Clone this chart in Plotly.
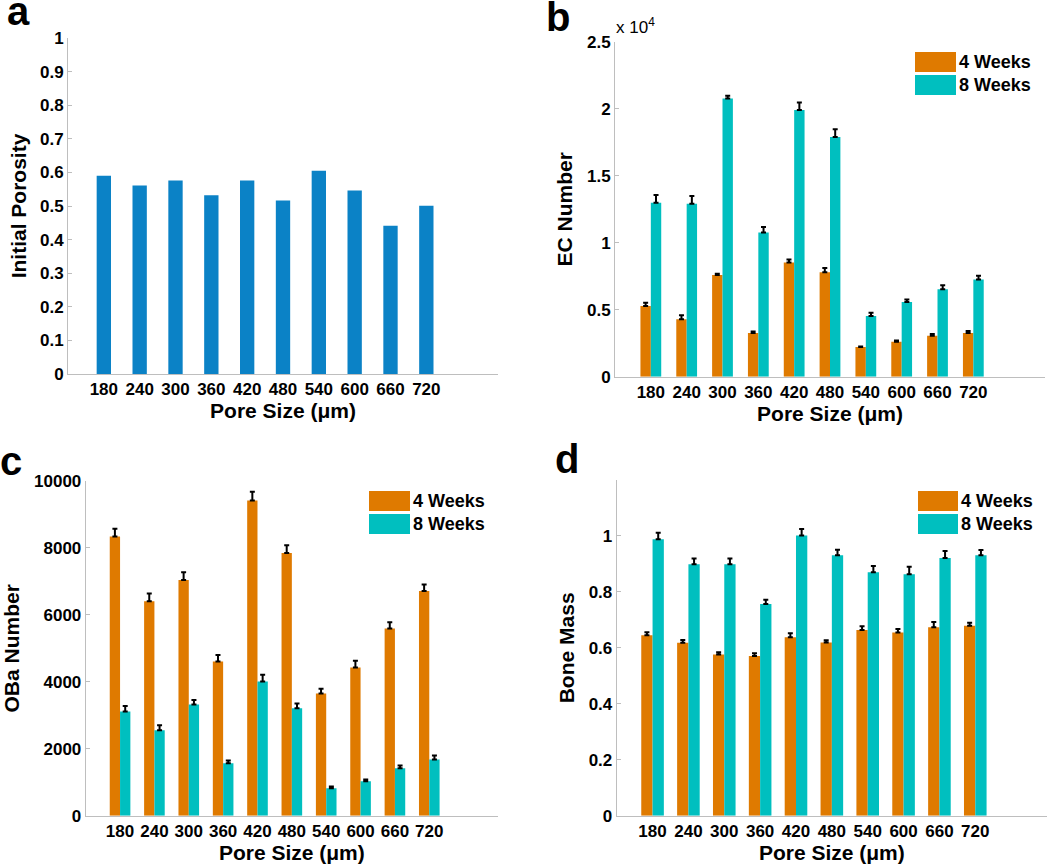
import plotly.graph_objects as go

# ---------------- data ----------------
pore_sizes = ["180", "240", "300", "360", "420", "480", "540", "600", "660", "720"]

porosity = [0.590, 0.561, 0.576, 0.532, 0.576, 0.516, 0.605, 0.546, 0.441, 0.501]

ec_4wk = [5270, 4280, 7590, 3260, 8530, 7790, 2210, 2610, 3060, 3260]
ec_4wk_err = [250, 300, 100, 120, 220, 320, 40, 100, 120, 150]
ec_8wk = [12990, 12910, 20770, 10770, 19900, 17890, 4530, 5570, 6520, 7260]
ec_8wk_err = [570, 570, 200, 400, 570, 570, 250, 200, 300, 270]

oba_4wk = [8340, 6410, 7040, 4610, 9420, 7850, 3650, 4430, 5590, 6710]
oba_4wk_err = [230, 230, 230, 190, 260, 230, 140, 200, 190, 200]
oba_8wk = [3110, 2550, 3320, 1570, 4010, 3210, 820, 1030, 1420, 1680]
oba_8wk_err = [170, 150, 140, 80, 200, 140, 50, 50, 80, 120]

bm_4wk = [0.645, 0.618, 0.576, 0.571, 0.638, 0.619, 0.664, 0.655, 0.674, 0.679]
bm_4wk_err = [0.011, 0.010, 0.008, 0.010, 0.014, 0.008, 0.013, 0.012, 0.018, 0.011]
bm_8wk = [0.988, 0.899, 0.899, 0.757, 1.002, 0.931, 0.870, 0.863, 0.921, 0.931]
bm_8wk_err = [0.023, 0.020, 0.020, 0.015, 0.023, 0.020, 0.023, 0.027, 0.025, 0.019]

series_names = ["4 Weeks", "8 Weeks"]

# ---------------- style ----------------
W, H = 1050, 864
BLUE = "rgb(11,130,198)"
ORANGE = "rgb(223,122,0)"
CYAN = "rgb(0,191,191)"
AXC = "rgb(190,190,190)"
FONT = "Liberation Sans, Arial, sans-serif"
TICKF = dict(family=FONT, size=17, color="black", weight="bold")
TITLEF = dict(family=FONT, size=21, color="black", weight="bold")


def px_dom_x(a, b):
    return [a / W, b / W]


def px_dom_y(top, bottom):
    return [1 - bottom / H, 1 - top / H]


fig = go.Figure()


def err(arr):
    return dict(type="data", array=arr, arrayminus=[0] * len(arr), symmetric=False,
                color="black", thickness=2, width=2.5, visible=True)


# panel a
fig.add_trace(go.Bar(x=pore_sizes, y=porosity, marker=dict(color=BLUE, line=dict(width=0)),
                     width=0.4, showlegend=False, xaxis="x", yaxis="y"))


def grouped(xa, ya, v4, e4, v8, e8, w):
    fig.add_trace(go.Bar(x=pore_sizes, y=v4, error_y=err(e4), name=series_names[0],
                         marker=dict(color=ORANGE, line=dict(width=0)), width=w, offset=-w,
                         showlegend=False, xaxis=xa, yaxis=ya))
    fig.add_trace(go.Bar(x=pore_sizes, y=v8, error_y=err(e8), name=series_names[1],
                         marker=dict(color=CYAN, line=dict(width=0)), width=w, offset=0,
                         showlegend=False, xaxis=xa, yaxis=ya))


grouped("x2", "y2", ec_4wk, ec_4wk_err, ec_8wk, ec_8wk_err, 0.29)
grouped("x3", "y3", oba_4wk, oba_4wk_err, oba_8wk, oba_8wk_err, 0.30)
grouped("x4", "y4", bm_4wk, bm_4wk_err, bm_8wk, bm_8wk_err, 0.315)


def xax(dom, anchor):
    return dict(domain=dom, anchor=anchor, type="category", range=[-1, 11],
                showline=True, linecolor=AXC, linewidth=1, showgrid=False, zeroline=False,
                ticks="", tickfont=TICKF, automargin=False,
                title=dict(text="Pore Size (μm)", font=TITLEF, standoff=3))


def yax(dom, anchor, rng, tickvals, ticktext, title, standoff):
    return dict(domain=dom, anchor=anchor, range=rng, tickvals=tickvals, ticktext=ticktext,
                showline=True, linecolor=AXC, linewidth=1, showgrid=False, zeroline=False,
                ticks="inside", ticklen=4, tickcolor=AXC, tickfont=TICKF, automargin=False,
                title=dict(text=title, font=TITLEF, standoff=standoff))


a_ticks = [i / 10 for i in range(11)]
a_text = ["0"] + [f"{v:.1f}" for v in a_ticks[1:-1]] + ["1"]
b_ticks = [0, 5000, 10000, 15000, 20000, 25000]
b_text = ["0", "0.5", "1", "1.5", "2", "2.5"]
c_ticks = [0, 2000, 4000, 6000, 8000, 10000]
c_text = [str(v) for v in c_ticks]
d_ticks = [0, 0.2, 0.4, 0.6, 0.8, 1.0]
d_text = ["0", "0.2", "0.4", "0.6", "0.8", "1"]

layout = dict(
    width=W, height=H, margin=dict(l=0, r=0, t=0, b=0, autoexpand=False),
    paper_bgcolor="white", plot_bgcolor="white", barmode="overlay",
    font=dict(family=FONT, color="black"),
    xaxis=xax(px_dom_x(68, 498), "y"),
    yaxis=yax(px_dom_y(38, 374), "x", [0, 1], a_ticks, a_text, "Initial Porosity", 7),
    xaxis2=xax(px_dom_x(615, 1045), "y2"),
    yaxis2=yax(px_dom_y(41.7, 376.7), "x2", [0, 25000], b_ticks, b_text, "EC Number", 8),
    xaxis3=xax(px_dom_x(85.7, 498), "y3"),
    yaxis3=yax(px_dom_y(481, 815.7), "x3", [0, 10000], c_ticks, c_text, "OBa Number", 8),
    xaxis4=xax(px_dom_x(616.7, 1047), "y4"),
    yaxis4=yax(px_dom_y(480, 815.7), "x4", [0, 1.2], d_ticks, d_text, "Bone Mass", 8),
)
fig.update_layout(**layout)

# panel letters
LETF = dict(family=FONT, size=40, color="black", weight="bold")
letters = [("a", 5, 11), ("b", 544, 17), ("c", -2, 461), ("d", 553, 459)]
anns = []
for t, x, y in letters:
    anns.append(dict(text=t, x=x / W, y=1 - y / H, xref="paper", yref="paper",
                     xanchor="left", yanchor="middle", showarrow=False, font=LETF))

# multiplier for panel b
anns.append(dict(text="x 10<sup>4</sup>", x=613.5 / W, y=1 - 39.5 / H, xref="paper", yref="paper",
                 xanchor="left", yanchor="bottom", showarrow=False,
                 font=dict(family=FONT, size=17, color="black")))

# legends (boxes + labels)
shapes = []
LEGF = dict(family=FONT, size=18, color="black", weight="bold")
for (x0, x1, ytop) in [(915, 956, 52), (369, 410, 491), (918, 958, 491)]:
    for k, col in enumerate([ORANGE, CYAN]):
        y0 = ytop + k * 23
        y1 = y0 + 20
        shapes.append(dict(type="rect", xref="paper", yref="paper",
                           x0=x0 / W, x1=x1 / W, y0=1 - y1 / H, y1=1 - y0 / H,
                           fillcolor=col, line=dict(width=0)))
        anns.append(dict(text=series_names[k], x=(x1 + 1) / W, y=1 - (y0 + 10) / H,
                         xref="paper", yref="paper", xanchor="left", yanchor="middle",
                         showarrow=False, font=LEGF))

fig.update_layout(annotations=anns, shapes=shapes)

fig.write_html("out.html", config={"displayModeBar": False},
               post_script="document.body.style.margin='0px';document.body.style.overflow='hidden';")
